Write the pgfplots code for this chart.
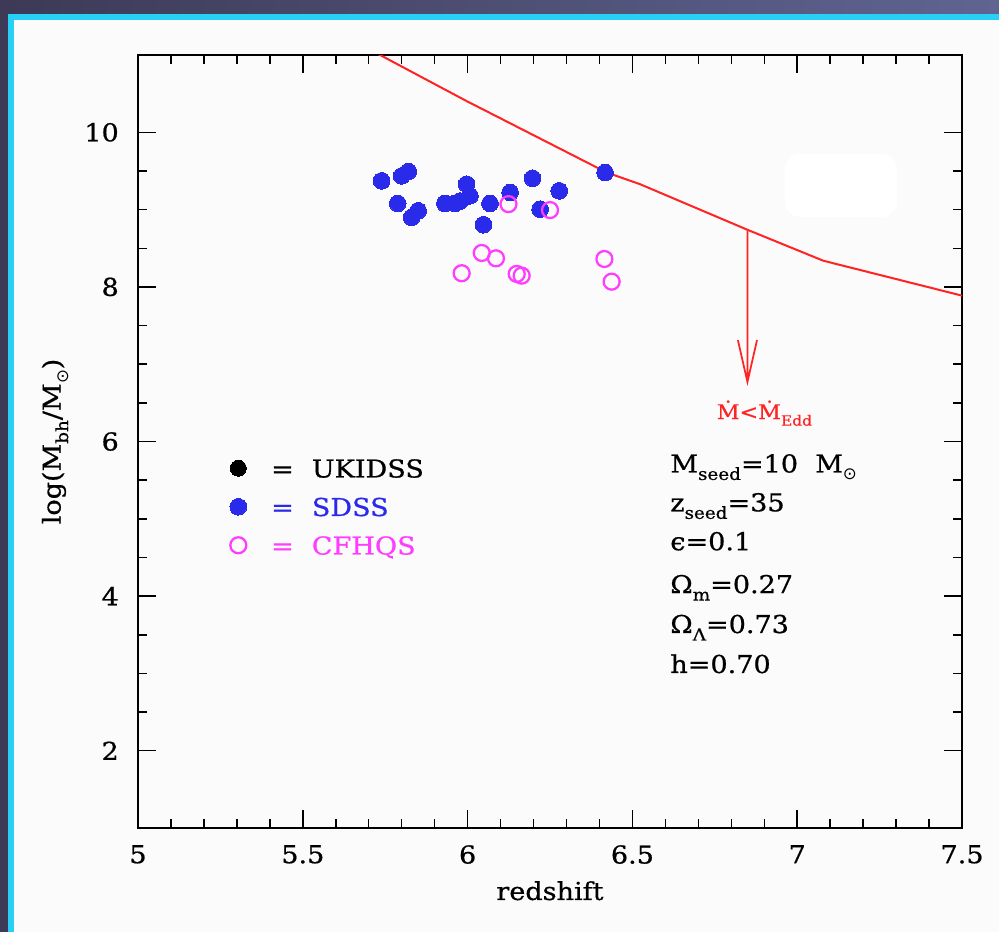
\documentclass[border=0pt]{standalone}
\usepackage{fontspec}
\setmainfont{DejaVu Serif}[FakeStretch=1.1, FakeBold=0.7]
\newfontfamily\symfont{DejaVu Sans}
\usepackage{pgfplots}
\pgfplotsset{compat=1.18}
\definecolor{sdss}{RGB}{42,42,235}
\definecolor{cfhqs}{RGB}{255,60,255}
\definecolor{redline}{RGB}{255,35,35}
\definecolor{bg}{RGB}{251,251,251}
\definecolor{cyanb}{RGB}{40,208,245}
\definecolor{darkA}{RGB}{60,58,86}
\definecolor{darkB}{RGB}{95,100,145}
\newcommand\fs{\fontsize{14}{16}\selectfont}
\newcommand\sbs[1]{\raisebox{-1.5mm}{\fontsize{9.5}{10}\selectfont #1}}
\pgfplotsset{lgmark/.style={legend image code/.code={\draw[##1] plot coordinates {(0mm,0mm)};}}}
\begin{document}
\begin{tikzpicture}
\begin{scope}[x=0.2mm,y=-0.2mm]
\fill[bg] (0,0) rectangle (999,932);
\useasboundingbox (0,0) rectangle (999,932);
\shade[left color=darkA,right color=darkB] (0,0) rectangle (999,14);
\fill[darkA] (0,0) rectangle (8,932);
\fill[cyanb] (8,14) rectangle (999,20);
\fill[cyanb] (8,14) rectangle (14,932);
\fill[white, rounded corners=3mm] (785,154) rectangle (897,217);
\end{scope}
\begin{axis}[
  at={(27.6mm,-165.6mm)}, anchor=south west,
  scale only axis, width=164.8mm, height=154.6mm,
  xmin=5, xmax=7.5, ymin=1, ymax=11,
  xtick={5,5.5,6,6.5,7,7.5}, ytick={2,4,6,8,10},
  minor x tick num=4, minor y tick num=3,
  tick align=inside, tick pos=both,
  xticklabel pos=lower, yticklabel pos=left,
  major tick length=3.6mm, minor tick length=1.8mm,
  axis line style={line width=0.55mm},
  every tick/.style={black, line width=0.3mm},
  /pgf/number format/assume math mode=true,
  tick label style={font=\fs},
  label style={font=\fs},
  xticklabel style={yshift=-2.2mm},
  yticklabel style={xshift=-2.6mm},
  xlabel={redshift},
  ylabel={log(M\sbs{bh}/M\sbs{\symfont ⊙})},
  xlabel style={at={(axis description cs:0.5,-0.093)}, anchor=base},
  ylabel style={at={(axis description cs:-0.094,0.5)}, anchor=base},
  legend cell align=left,
  legend style={draw=none, fill=none, at={(axis cs:5.279,5.774)}, anchor=north west,
    inner sep=0pt, outer sep=0pt, row sep=4.0mm,
    nodes={inner sep=0pt, text height=3.7mm, text depth=0pt, font=\fs},
    /tikz/every odd column/.append style={column sep=4.9mm}},
]
\addlegendimage{only marks, mark=*, black, mark size=1.6mm, mark options={line width=0pt}, lgmark}
\addlegendentry{=\hspace{3.6mm}UKIDSS}
\addplot[redline, line width=0.4mm, no marks, forget plot] table {
5.730 11.01
5.997 10.404
6.422 9.480
6.523 9.329
6.849 8.739
7.079 8.339
7.500 7.887
};
\addplot[only marks, mark=*, sdss, mark size=1.67mm, mark options={line width=0pt, draw=sdss, fill=sdss}, lgmark] table {
5.739 9.372
5.800 9.436
5.820 9.493
5.788 9.080
5.830 8.899
5.850 8.985
5.931 9.080
5.962 9.080
5.997 9.329
6.007 9.178
5.977 9.110
6.068 9.080
6.048 8.804
6.129 9.222
6.197 9.406
6.278 9.243
6.220 9.006
6.417 9.480
};
\addlegendentry{\textcolor{sdss}{=\hspace{3.6mm}SDSS}}
\addplot[only marks, mark=o, cfhqs, mark size=1.6mm, mark options={line width=0.45mm}, lgmark] table {
6.124 9.071
6.250 8.994
5.982 8.177
6.043 8.439
6.086 8.370
6.149 8.168
6.164 8.146
6.415 8.361
6.437 8.068
};
\addlegendentry{\textcolor{cfhqs}{=\hspace{3.6mm}CFHQS}}
\draw[draw=redline, line width=0.35mm] (axis cs:6.849,8.739) -- (axis cs:6.849,6.77)
  (axis cs:6.820,7.312) -- (axis cs:6.849,6.77) -- (axis cs:6.878,7.312);
\node[anchor=base west, text=redline, font=\fontsize{11.5}{13}\selectfont, inner sep=0pt] at (axis cs:6.755,6.29) {Ṁ<Ṁ\raisebox{-1.3mm}{\fontsize{8}{9}\selectfont Edd}};
\node[anchor=base west, font=\fs, inner sep=0pt] at (axis cs:6.614,5.60) {M\sbs{seed}=10~~M\sbs{\symfont ⊙}};
\node[anchor=base west, font=\fs, inner sep=0pt] at (axis cs:6.614,5.097) {z\sbs{seed}=35};
\node[anchor=base west, font=\fs, inner sep=0pt] at (axis cs:6.614,4.594) {ϵ=0.1};
\node[anchor=base west, font=\fs, inner sep=0pt] at (axis cs:6.614,4.039) {Ω\sbs{m}=0.27};
\node[anchor=base west, font=\fs, inner sep=0pt] at (axis cs:6.614,3.523) {Ω\sbs{Λ}=0.73};
\node[anchor=base west, font=\fs, inner sep=0pt] at (axis cs:6.614,3.006) {h=0.70};
\end{axis}
\end{tikzpicture}
\end{document}
